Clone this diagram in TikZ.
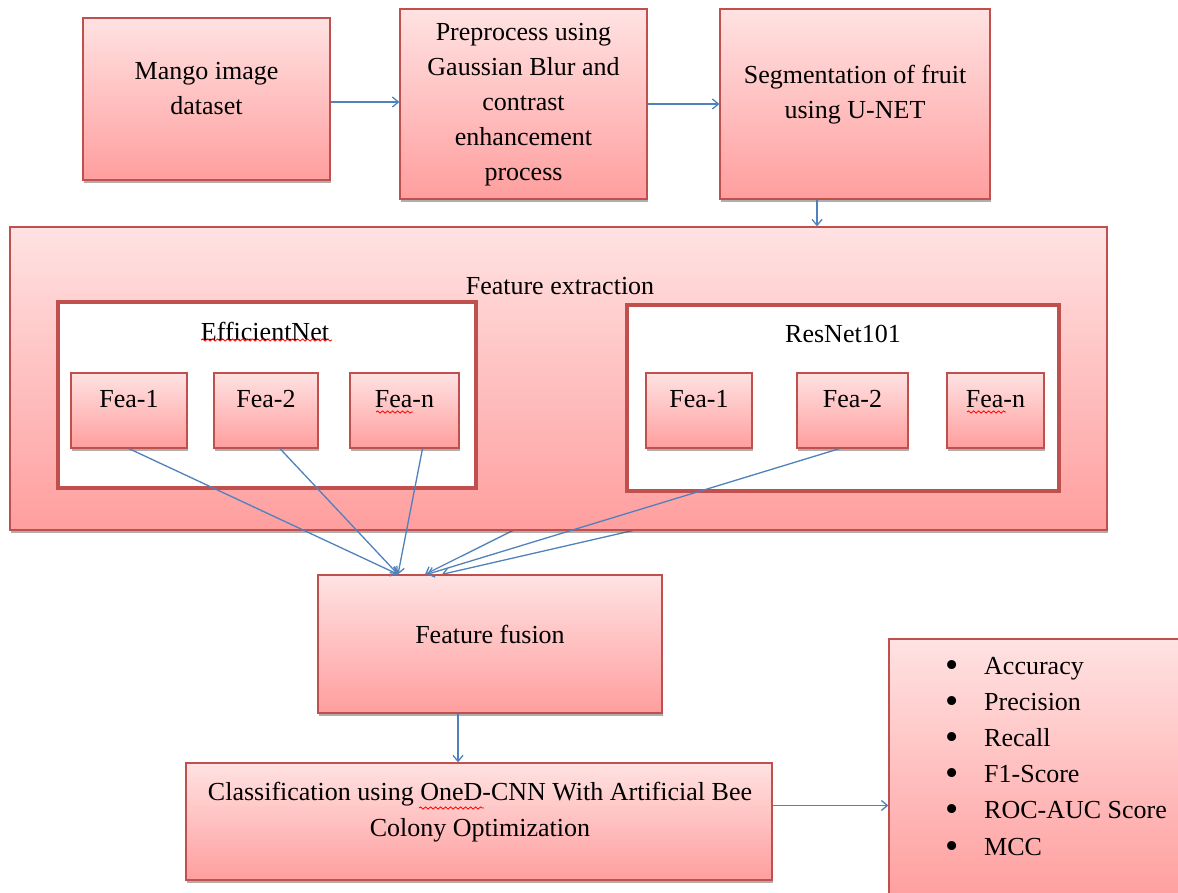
\documentclass[tikz,border=0pt]{standalone}
\usepackage{fontspec}
\setmainfont{Liberation Serif}
\usetikzlibrary{arrows.meta,shadows,decorations.pathmorphing}
\definecolor{pinkTop}{RGB}{255,226,226}
\definecolor{pinkBot}{RGB}{255,158,158}
\definecolor{boxRed}{RGB}{192,80,77}
\definecolor{arrBlue}{RGB}{79,129,189}
\pgfdeclarelayer{background}
\pgfsetlayers{background,main}
\newcommand{\mybul}{\makebox[39pt][l]{\raisebox{-3pt}{\scalebox{1.45}{•}}}}
\tikzset{
  gbox/.style={draw=boxRed, line width=1.3pt, top color=pinkTop, bottom color=pinkBot,
    inner sep=0pt, drop shadow={shadow xshift=1pt, shadow yshift=-3pt, fill=black!70, opacity=0.45}},
  wbox/.style={draw=boxRed, line width=4pt, fill=white, inner sep=0pt},
  txt/.style={font=\fontsize{26}{35}\selectfont, align=center, inner sep=0pt},
  conn/.style={draw=arrBlue, line width=1.3pt, -{Straight Barb[length=6pt,width=10pt]}},
  squig/.style={draw=red, line width=0.8pt, decorate, decoration={snake, amplitude=1.1pt, segment length=5pt}}
}
\begin{document}
\begin{tikzpicture}[x=1pt,y=-1pt]
\path[use as bounding box] (0,0) rectangle (1178,893);
\clip (0,0) rectangle (1178,893);
% top row
\node[gbox, minimum width=247pt, minimum height=162pt] (mango) at (206.5,99) {};
\node[gbox, minimum width=247pt, minimum height=190pt] (prep) at (523.5,104) {};
\node[gbox, minimum width=270pt, minimum height=190pt] (seg) at (855,104) {};
\node[txt] (mangoT) at (206.5,89) {Mango image\\dataset};
\node[txt] (prepT) at (523.5,105) {Preprocess using\\Gaussian Blur and\\contrast\\enhancement\\process};
\node[txt] (segT) at (855,95) {Segmentation of fruit\\using U-NET};
% feature extraction
\node[gbox, minimum width=1097pt, minimum height=303pt] (fe) at (558.5,378.5) {};
\node[txt] (feT) at (560,286) {Feature extraction};
\node[wbox, minimum width=418pt, minimum height=186pt] (eff) at (267,395) {};
\node[wbox, minimum width=432pt, minimum height=186pt] (res) at (843,398) {};
\node[txt] (effT) at (265,331) {EfficientNet};
\node[txt] (resT) at (843,334) {ResNet101};
\node[gbox, minimum width=116pt, minimum height=75pt] (ef1) at (129,410.5) {};
\node[gbox, minimum width=104pt, minimum height=75pt] (ef2) at (266,410.5) {};
\node[gbox, minimum width=109pt, minimum height=75pt] (efn) at (404.5,410.5) {};
\node[gbox, minimum width=106pt, minimum height=75pt] (rs1) at (699,410.5) {};
\node[gbox, minimum width=111pt, minimum height=75pt] (rs2) at (852.5,410.5) {};
\node[gbox, minimum width=97pt, minimum height=75pt] (rsn) at (995.5,410.5) {};
\node[txt] (ef1T) at (129,399) {Fea-1};
\node[txt] (ef2T) at (266,399) {Fea-2};
\node[txt] (efnT) at (404.5,399) {Fea-n};
\node[txt] (rs1T) at (699,399) {Fea-1};
\node[txt] (rs2T) at (852.5,399) {Fea-2};
\node[txt] (rsnT) at (995.5,399) {Fea-n};
% fusion, classification, metrics
\node[gbox, minimum width=344pt, minimum height=138pt] (fus) at (490,644) {};
\node[txt] (fusT) at (490,634) {Feature fusion};
\node[gbox, minimum width=586pt, minimum height=117pt] (cls) at (479,821.5) {};
\node[txt, font=\fontsize{26}{36}\selectfont] (clsT) at (480,812) {Classification using OneD-CNN With Artificial Bee\\Colony Optimization};
\node[gbox, minimum width=301pt, minimum height=261pt] (met) at (1039.5,769.5) {};
\node[txt, font=\fontsize{26}{36.2}\selectfont, align=left, anchor=west] (metT) at (945,757.5) {%
\mybul Accuracy\\
\mybul Precision\\
\mybul Recall\\
\mybul F1-Score\\
\mybul ROC-AUC Score\\
\mybul MCC};
% spell-check marks
\draw[squig] (201,340) -- (332,340);
\draw[squig] (376,412) -- (413,412);
\draw[squig] (967,412) -- (1006,412);
\draw[squig] (419,808) -- (484,808);
% target points on the fusion box
\coordinate (fA) at ([xshift=-92pt]fus.north);
\coordinate (fB) at ([xshift=-65pt]fus.north);
\coordinate (fC) at ([xshift=-63pt]fus.north);
\coordinate (fD) at ([xshift=-48pt]fus.north);
% hidden connectors (behind the feature extraction box)
\begin{pgfonlayer}{background}
\draw[conn] ([xshift=-22pt]rs1.south) -- (fB);
\draw[conn] ([xshift=-6pt]rsn.south) -- (fD);
\end{pgfonlayer}
% connectors
\draw[conn] ([yshift=-3pt]mango.east) -- ([yshift=-3pt]mango.east -| prep.west);
\draw[conn] (prep.east) -- (prep.east -| seg.west);
\draw[conn] ([xshift=-38pt]seg.south) -- ([xshift=-38pt]seg.south |- fe.north);
\draw[conn] (ef1.south) -- (fA);
\draw[conn] ([xshift=14pt]ef2.south) -- (fA);
\draw[conn] ([xshift=18pt]efn.south) -- (fA);
\draw[conn] ([xshift=-13pt]rs2.south) -- (fC);
\draw[conn] ([xshift=-32pt]fus.south) -- ([xshift=-32pt]fus.south |- cls.north);
\draw[conn] ([yshift=16pt]cls.east) -- ([yshift=16pt]cls.east -| met.west);
\end{tikzpicture}
\end{document}
